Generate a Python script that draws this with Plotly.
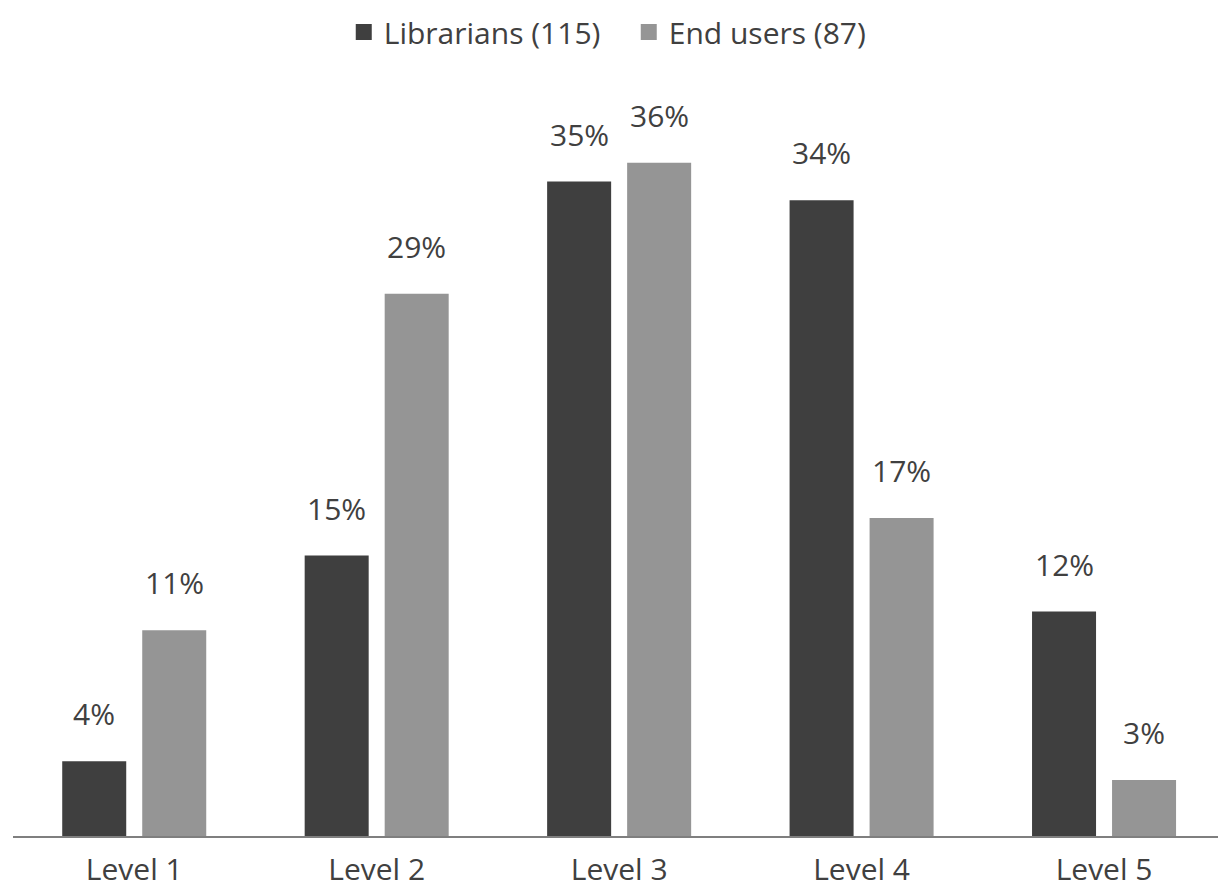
import plotly.graph_objects as go

categories = ["Level 1", "Level 2", "Level 3", "Level 4", "Level 5"]
librarians = [4, 15, 35, 34, 12]
end_users = [11, 29, 36, 17, 3]
series_names = ["Librarians (115)", "End users (87)"]
colors = ["#3f3f3f", "#959595"]

FONT = "Open Sans"
TEXT_COLOR = "#404040"
BARGAP = 0.34

fig = go.Figure()
for name, vals, col in zip(series_names, [librarians, end_users], colors):
    fig.add_trace(go.Bar(x=categories, y=vals, name=name, showlegend=False,
                         marker=dict(color=col, line=dict(width=0))))
    # legend entry with a larger square swatch
    fig.add_trace(go.Scatter(x=[None], y=[None], mode="markers", name=name,
                             marker=dict(symbol="square", size=16, color=col)))

slot = (1 - BARGAP) / 2
annotations = []
for k, vals in enumerate([librarians, end_users]):
    off = -slot / 2 if k == 0 else slot / 2
    for j, v in enumerate(vals):
        annotations.append(dict(x=j + off, y=v, xref="x", yref="y", text=f"{v}%",
                                showarrow=False, yanchor="bottom", yshift=25,
                                font=dict(family=FONT, size=30, color=TEXT_COLOR)))

fig.update_layout(
    width=1218, height=895,
    margin=dict(l=13, r=0, t=88, b=59),
    paper_bgcolor="white", plot_bgcolor="white",
    barmode="group", bargap=BARGAP, bargroupgap=0.2,
    showlegend=True,
    legend=dict(orientation="h", x=0.511, xanchor="center", y=1.075, yanchor="middle",
                font=dict(family=FONT, size=30, color=TEXT_COLOR),
                entrywidth=240, entrywidthmode="pixels", itemwidth=30),
    annotations=annotations,
    font=dict(family=FONT, color=TEXT_COLOR),
)
fig.update_xaxes(range=[-0.5, 4.47], showline=True, linecolor="#7f7f7f", linewidth=2,
                 showgrid=False, ticks="", ticklabelstandoff=6,
                 tickfont=dict(family=FONT, size=30, color=TEXT_COLOR))
fig.update_yaxes(range=[0, 40], visible=False, showgrid=False)

fig.write_html("out.html")
